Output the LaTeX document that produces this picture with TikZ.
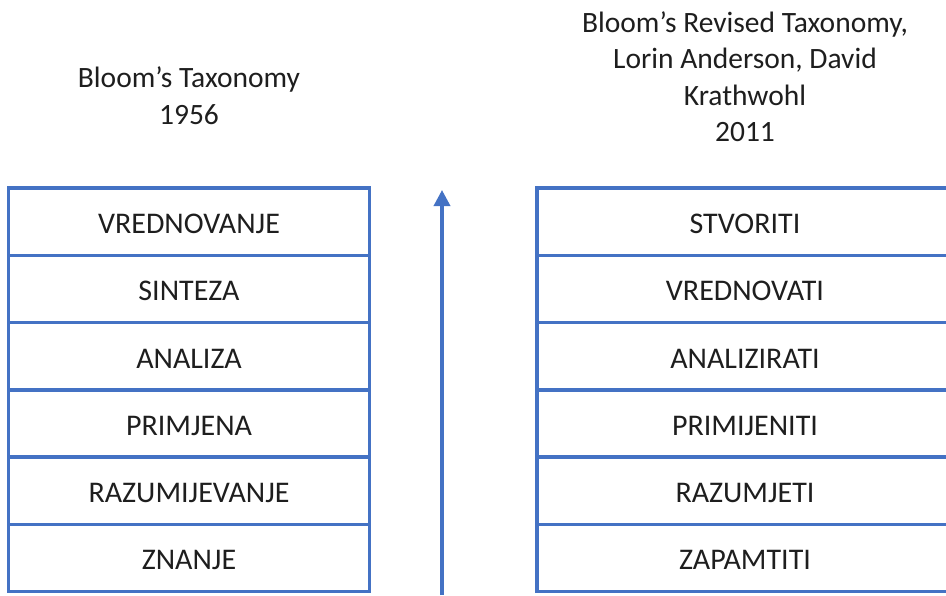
\documentclass[tikz,border=0pt]{standalone}
\usepackage{fontspec}
\setmainfont{Carlito}
\usetikzlibrary{arrows.meta}
\definecolor{accent}{HTML}{4472C4}
\definecolor{ink}{HTML}{1E1E1E}
\begin{document}
\begin{tikzpicture}[x=1pt,y=-1pt,
  levelbox/.style={draw=accent, line width=3.5pt, minimum width=#1,
    minimum height=67.25pt, inner sep=0pt, text=ink,
    text height=24pt, text depth=0pt,
    font=\fontsize{30}{36}\selectfont},
  titletext/.style={align=center, text=ink, inner sep=0pt,
    font=\fontsize{29.5}{36.5}\selectfont},
  climb/.style={draw=accent, line width=3.5pt,
    -{Triangle[width=16pt,length=16pt]}}]
  \useasboundingbox (0,0) rectangle (946,595);
  \clip (0,0) rectangle (946,595);

  % headings
  \node[titletext] (lefttitle) at (189,95.5) {Bloom’s Taxonomy\\1956};
  \node[titletext] (righttitle) at (745,76.5)
    {Bloom’s Revised Taxonomy,\\Lorin Anderson, David\\Krathwohl\\2011};

  % original taxonomy (1956)
  \foreach \name/\label [count=\i from 0] in
    {l1/VREDNOVANJE, l2/SINTEZA, l3/ANALIZA, l4/PRIMJENA,
     l5/RAZUMIJEVANJE, l6/ZNANJE}
    \node[levelbox=361pt] (\name) at (189,{188+67.25*(\i+0.5)}) {\label};

  % revised taxonomy (2001)
  \foreach \name/\label [count=\i from 0] in
    {r1/STVORITI, r2/VREDNOVATI, r3/ANALIZIRATI, r4/PRIMIJENITI,
     r5/RAZUMJETI, r6/ZAPAMTITI}
    \node[levelbox=416pt] (\name) at (745,{188+67.25*(\i+0.5)}) {\label};

  % direction of increasing complexity
  \coordinate (arrowbase) at (442,595);
  \coordinate (arrowtip) at (442,190);
  \draw[climb] (arrowbase) -- (arrowtip);
\end{tikzpicture}
\end{document}
